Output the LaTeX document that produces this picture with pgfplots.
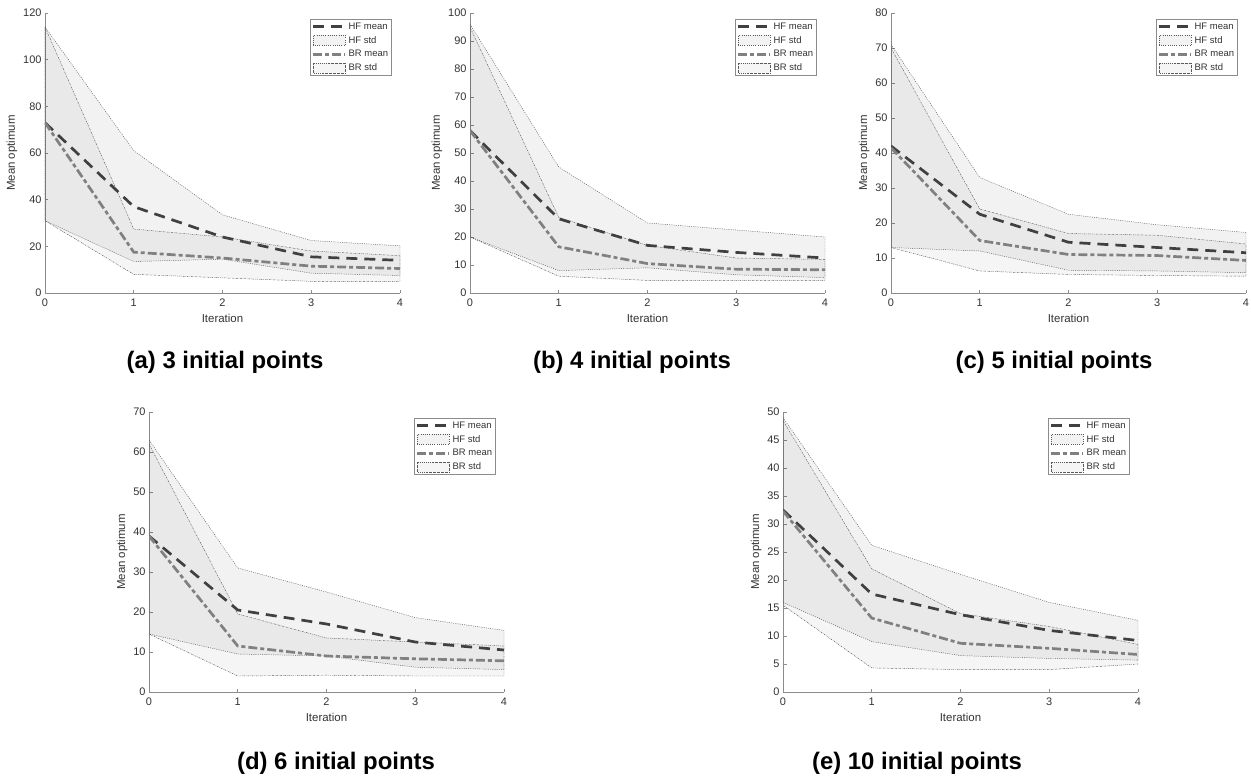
\documentclass[border=0pt]{standalone}
\usepackage{fontspec}
\setmainfont{Liberation Sans}
\usepackage{pgfplots}
\pgfplotsset{compat=1.18}
\definecolor{hfc}{HTML}{404040}
\definecolor{brc}{HTML}{808080}
\definecolor{axc}{HTML}{8C8C8C}
\definecolor{txc}{HTML}{333333}
\tikzset{
  hfmean/.style={hfc, line width=2.7bp, dash pattern=on 11bp off 7bp},
  brmean/.style={brc, line width=2.7bp, dash pattern=on 9bp off 3bp on 4bp off 3bp},
  hfstd/.style={fill=black, fill opacity=0.05, draw=black!65, draw opacity=1, line width=0.45bp, dash pattern=on 1bp off 1.2bp},
  brstd/.style={fill=black, fill opacity=0.04, draw=black!65, draw opacity=1, line width=0.45bp, dash pattern=on 1.6bp off 1bp on 0.5bp off 1bp},
}
\pgfplotsset{
  panel/.style={
    scale only axis, width=355bp, height=280bp, anchor=south west,
    xmin=0, xmax=4, ymin=0, xtick={0,1,2,3,4},
    axis x line*=bottom, axis y line*=left,
    axis line style={axc, line width=0.6bp, -},
    tick style={axc, line width=0.6bp},
    tick align=inside, major tick length=3.5bp,
    /pgf/number format/assume math mode=true,
    tick label style={font=\fontsize{11}{12}\selectfont, text=txc},
    xticklabel style={yshift=-2bp},
    label style={font=\fontsize{11.5}{13}\selectfont, text=txc},
    xlabel={Iteration}, ylabel={Mean optimum},
    xlabel style={yshift=-1bp},
    ylabel style={yshift=-1bp},
    legend cell align=left,
    legend style={at={(0.977,0.979)}, anchor=north east, draw=black!45, line width=0.5bp, fill=white,
      font=\fontsize{9.5}{11}\selectfont, text=txc, row sep=1.6bp, inner sep=1.5bp},
    legend image code/.code={\draw[##1] (0bp,0bp) -- (32bp,0bp);},
  },
}
\newcommand\legendentries{%
  \addlegendimage{hfmean}\addlegendentry{HF mean}
  \addlegendimage{legend image code/.code={\draw[hfstd] (0bp,-5bp) rectangle (32bp,5bp);}}\addlegendentry{HF std}
  \addlegendimage{brmean}\addlegendentry{BR mean}
  \addlegendimage{legend image code/.code={\draw[brstd] (0bp,-5bp) rectangle (32bp,5bp);}}\addlegendentry{BR std}
}
\begin{document}
\begin{tikzpicture}
\useasboundingbox (0,0) rectangle (1251bp,-778bp);
% (a)
\begin{axis}[panel, at={(45bp,-293bp)}, ymax=120, ytick={0,20,...,120}]
\legendentries
\addplot[hfstd, forget plot] coordinates {(0,114)(1,61)(2,33.5)(3,22.5)(4,20.2)(4,7.5)(3,8.5)(2,14.5)(1,13.5)(0,31)} -- cycle;
\addplot[brstd, forget plot] coordinates {(0,114)(1,27.4)(2,24)(3,18)(4,16)(4,5)(3,5)(2,6.5)(1,8)(0,31)} -- cycle;
\addplot[hfmean, forget plot] coordinates {(0,73)(1,37)(2,24)(3,15.5)(4,14)};
\addplot[brmean, forget plot] coordinates {(0,73)(1,17.5)(2,15)(3,11.5)(4,10.5)};
\end{axis}
% (b)
\begin{axis}[panel, at={(470bp,-293bp)}, ymax=100, ytick={0,10,...,100}]
\legendentries
\addplot[hfstd, forget plot] coordinates {(0,96)(1,45)(2,25)(3,22.5)(4,20)(4,5.5)(3,6.5)(2,9)(1,8)(0,20)} -- cycle;
\addplot[brstd, forget plot] coordinates {(0,95)(1,27)(2,17)(3,12.5)(4,12)(4,4.5)(3,4.5)(2,4.5)(1,6)(0,20)} -- cycle;
\addplot[hfmean, forget plot] coordinates {(0,58)(1,26.5)(2,17)(3,14.5)(4,12.5)};
\addplot[brmean, forget plot] coordinates {(0,58)(1,16.5)(2,10.5)(3,8.5)(4,8.3)};
\end{axis}
% (c)
\begin{axis}[panel, at={(891bp,-293bp)}, ymax=80, ytick={0,10,...,80}]
\legendentries
\addplot[hfstd, forget plot] coordinates {(0,71)(1,33)(2,22.5)(3,19.5)(4,17.3)(4,5.8)(3,6.3)(2,6.5)(1,12)(0,13)} -- cycle;
\addplot[brstd, forget plot] coordinates {(0,70)(1,24)(2,17)(3,16.5)(4,14)(4,4.8)(3,5)(2,5.3)(1,6.3)(0,13)} -- cycle;
\addplot[hfmean, forget plot] coordinates {(0,42)(1,22.5)(2,14.5)(3,13)(4,11.5)};
\addplot[brmean, forget plot] coordinates {(0,41.5)(1,15)(2,11)(3,10.7)(4,9.3)};
\end{axis}
% (d)
\begin{axis}[panel, at={(149bp,-692bp)}, ymax=70, ytick={0,10,...,70}]
\legendentries
\addplot[hfstd, forget plot] coordinates {(0,63)(1,31)(2,25)(3,18.6)(4,15.4)(4,5.6)(3,6.2)(2,9)(1,9.5)(0,14.5)} -- cycle;
\addplot[brstd, forget plot] coordinates {(0,62)(1,19.5)(2,13.5)(3,12.5)(4,11.5)(4,4)(3,4)(2,4.2)(1,4)(0,14.5)} -- cycle;
\addplot[hfmean, forget plot] coordinates {(0,39)(1,20.5)(2,17)(3,12.5)(4,10.5)};
\addplot[brmean, forget plot] coordinates {(0,39)(1,11.5)(2,9)(3,8.3)(4,7.8)};
\end{axis}
% (e)
\begin{axis}[panel, at={(783bp,-692bp)}, ymax=50, ytick={0,5,...,50}]
\legendentries
\addplot[hfstd, forget plot] coordinates {(0,49)(1,26.2)(2,21)(3,16)(4,12.8)(4,5.7)(3,6)(2,6.5)(1,9)(0,16)} -- cycle;
\addplot[brstd, forget plot] coordinates {(0,48.5)(1,22)(2,14)(3,11.7)(4,8.5)(4,5)(3,4)(2,4)(1,4.3)(0,15.5)} -- cycle;
\addplot[hfmean, forget plot] coordinates {(0,32.5)(1,17.5)(2,13.8)(3,11)(4,9.2)};
\addplot[brmean, forget plot] coordinates {(0,32.3)(1,13.2)(2,8.7)(3,7.8)(4,6.7)};
\end{axis}
\begin{scope}[every node/.style={font=\bfseries\fontsize{24}{26}\selectfont}]
\node at (225bp,-362bp) {(a) 3 initial points};
\node at (632bp,-362bp) {(b) 4 initial points};
\node at (1054bp,-362bp) {(c) 5 initial points};
\node at (336bp,-763bp) {(d) 6 initial points};
\node at (917bp,-763bp) {(e) 10 initial points};
\end{scope}
\end{tikzpicture}
\end{document}
